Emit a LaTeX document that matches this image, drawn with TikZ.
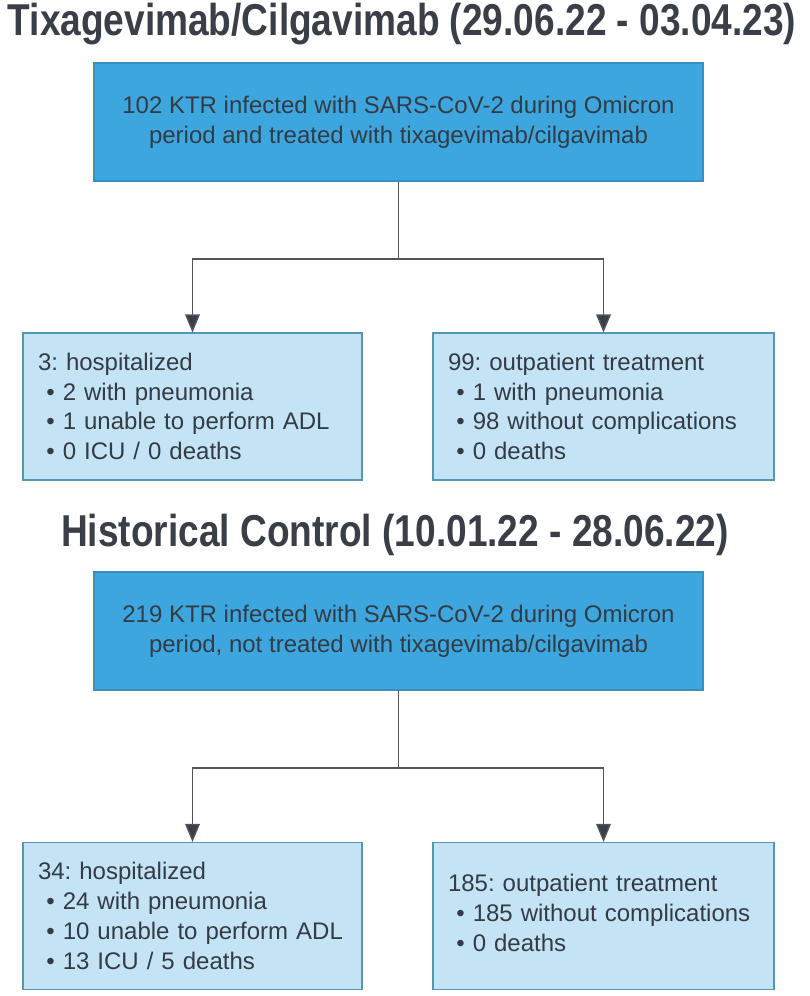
\documentclass[tikz,border=0pt]{standalone}
\usepackage{fontspec}
\setmainfont{Liberation Sans}
\newfontfamily\titlefont{Liberation Sans}[FakeStretch=0.83]
\usetikzlibrary{arrows.meta}
\frenchspacing
\definecolor{darkbox}{HTML}{3DA6DF}
\definecolor{darkborder}{HTML}{3A8FBE}
\definecolor{lightbox}{HTML}{C4E4F6}
\definecolor{lightborder}{HTML}{5497B3}
\definecolor{txt}{HTML}{333B44}
\definecolor{linec}{HTML}{50555C}
\definecolor{tipc}{HTML}{3A3F47}
\tikzset{
  ttl/.style={font=\titlefont\bfseries\fontsize{33.5}{38}\selectfont, text=tipc, inner sep=0pt},
  mainbox/.style={draw=darkborder, fill=darkbox, line width=0.8pt, minimum width=609*0.75pt, minimum height=118*0.75pt, align=center, text=txt, font=\fontsize{18}{22.5}\selectfont, inner sep=0pt},
  subbox/.style={draw=lightborder, fill=lightbox, line width=0.8pt, minimum height=147*0.75pt, text width=#1*0.75pt-30*0.75pt, inner xsep=15*0.75pt, inner ysep=0pt, align=left, text=txt, font=\fontsize{18}{22.3}\selectfont},
  conn/.style={draw=linec, line width=1.1pt},
  arr/.style={draw=linec, line width=1.1pt, -{Triangle[width=11pt,length=13.5pt,fill=tipc]}},
}
\newcommand{\bul}{\hspace*{0.35em}\textbullet\ }
\begin{document}
\begin{tikzpicture}[x=0.75pt,y=-0.75pt]
\useasboundingbox (0,0) rectangle (810,996);
% section 1
\node[ttl] (t1) at (402,24) {Tixagevimab/Cilgavimab (29.06.22 - 03.04.23)};
\node[mainbox] (m1) at (398.5,122) {102 KTR infected with SARS-CoV-2 during Omicron\\period and treated with tixagevimab/cilgavimab};
\node[subbox=339] (l1) at (192.5,406.5) {3: hospitalized\\\bul 2 with pneumonia\\\bul 1 unable to perform ADL\\\bul 0 ICU / 0 deaths};
\node[subbox=341] (r1) at (603.5,406.5) {99: outpatient treatment\\\bul 1 with pneumonia\\\bul 98 without complications\\\bul 0 deaths};
\coordinate (j1) at (398.5,259);
\draw[conn] (m1.south) -- (j1);
\draw[arr] (j1) -| (l1.north);
\draw[arr] (j1) -| (r1.north);
% section 2
\node[ttl] (t2) at (395,535) {Historical Control (10.01.22 - 28.06.22)};
\node[mainbox] (m2) at (398.5,631) {219 KTR infected with SARS-CoV-2 during Omicron\\period, not treated with tixagevimab/cilgavimab};
\node[subbox=339] (l2) at (192.5,916) {34: hospitalized\\\bul 24 with pneumonia\\\bul 10 unable to perform ADL\\\bul 13 ICU / 5 deaths};
\node[subbox=341] (r2) at (603.5,916) {185: outpatient treatment\\\bul 185 without complications\\\bul 0 deaths\par\vspace*{4.5pt}};
\coordinate (j2) at (398.5,768);
\draw[conn] (m2.south) -- (j2);
\draw[arr] (j2) -| (l2.north);
\draw[arr] (j2) -| (r2.north);
\end{tikzpicture}
\end{document}
